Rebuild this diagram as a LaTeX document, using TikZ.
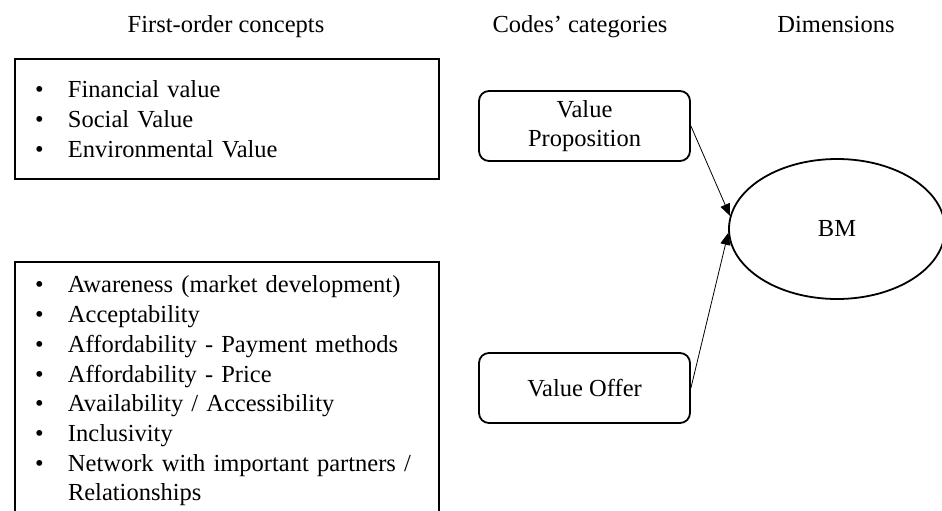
\documentclass[tikz,border=0pt]{standalone}
\usepackage{fontspec}
\setmainfont{Liberation Serif}
\usepackage{tikz}
\usetikzlibrary{shapes.geometric,arrows.meta}
\newcommand{\bodyfont}{\fontsize{24.5}{29.7}\selectfont}
\newcommand{\itm}{\makebox[33pt][l]{\textbullet}}
\tikzset{
  colhead/.style = {font=\bodyfont, anchor=base, inner sep=0pt},
  listbox/.style = {draw, line width=1.8pt, font=\bodyfont, align=left,
                    inner xsep=20pt, inner ysep=0pt, text width=384pt,
                    minimum width=424pt},
  catbox/.style  = {draw, line width=1.8pt, rounded corners=10pt, font=\bodyfont,
                    align=center, minimum width=211pt, minimum height=70pt,
                    inner sep=2pt},
  dimnode/.style = {draw, ellipse, line width=1.8pt, font=\bodyfont,
                    minimum width=216pt, minimum height=140pt, inner sep=0pt},
  link/.style    = {-{Triangle[length=12pt,width=10pt]}, line width=0.8pt},
}

\begin{document}
\begin{tikzpicture}[x=1pt, y=-1pt]
    \useasboundingbox (0,0) rectangle (942,511);

    % column heads
    \node[colhead] (hfirst) at (226,33) {First-order concepts};
    \node[colhead] (hcodes) at (580,33) {Codes’ categories};
    \node[colhead] (hdims)  at (836,33) {Dimensions};

    % first-order concepts
    \node[listbox, minimum height=120pt] (fvalue) at (227,119)
      {\itm Financial value\\
       \itm Social Value\\
       \itm Environmental Value};
    \node[listbox, minimum height=258pt] (foffer) at (227,391)
      {\itm Awareness (market development)\\
       \itm Acceptability\\
       \itm Affordability - Payment methods\\
       \itm Affordability - Price\\
       \itm Availability / Accessibility\\
       \itm Inclusivity\\
       \itm Network with important partners /\\
       \hspace*{33pt}Relationships};

    % categories
    \node[catbox] (vprop)  at (584.5,126) {Value\\Proposition};
    \node[catbox] (voffer) at (584.5,388) {Value Offer};

    % dimension
    \node[dimnode] (bm) at (837,229) {BM};

    \draw[link] (vprop.east)  -- (bm.173);
    \draw[link] (voffer.east) -- (bm.182);
\end{tikzpicture}
\end{document}
